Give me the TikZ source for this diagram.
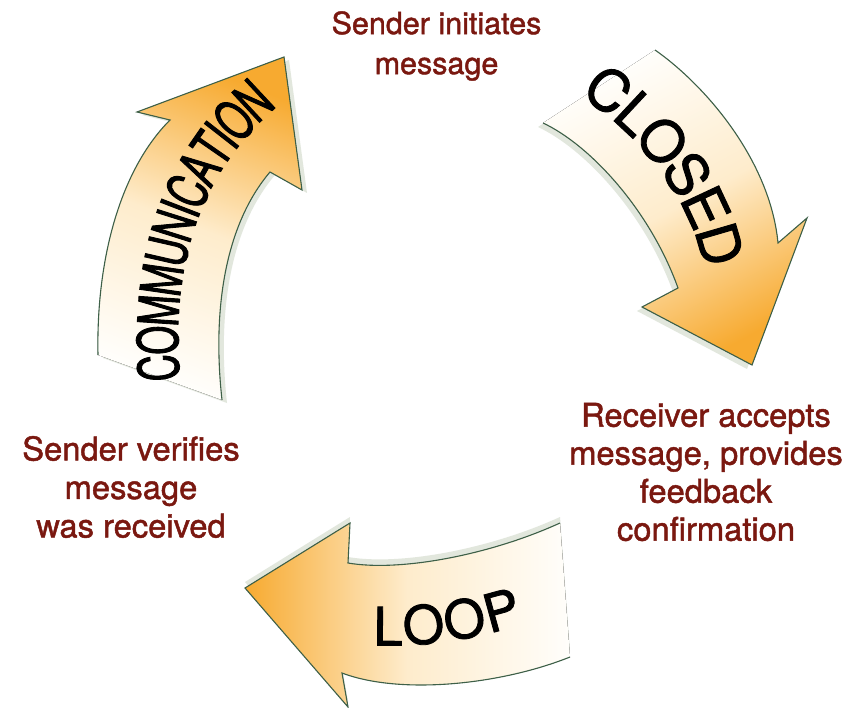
\documentclass[tikz,border=0pt]{standalone}
\usepackage{fontspec}
\setmainfont{TeX Gyre Heros}[FakeBold=1.4]
\newfontfamily\condfont[FakeStretch=0.66,FakeBold=1.6]{TeX Gyre Heros}
\newfontfamily\labfont[FakeBold=1.6]{TeX Gyre Heros}
\usetikzlibrary{decorations.text}
\definecolor{txtred}{RGB}{122,24,16}
\definecolor{edgegreen}{RGB}{62,96,72}
\definecolor{arrorange}{RGB}{247,170,48}
\definecolor{arrmid}{RGB}{254,236,204}
\definecolor{arrpale}{RGB}{255,254,251}
\definecolor{shadowgray}{RGB}{226,231,221}
\def\commout{(98,355) .. controls (96,260) and (120,170) .. (170,120) -- (137,112) -- (284,57) -- (302,190) -- (270,172) .. controls (225,225) and (212,310) .. (222,400)}
\def\closedout{(655,50) .. controls (705,85) and (770,160) .. (778,243) -- (807,218) -- (752,365) -- (642,307) -- (678,288) .. controls (650,210) and (590,145) .. (543,123)}
\def\loopout{(560,523) .. controls (490,555) and (400,572) .. (348,563) -- (350,523) -- (245,588) -- (348,707) -- (342,673) .. controls (400,695) and (500,685) .. (570,657)}
\begin{document}
\begin{tikzpicture}[x=1pt,y=-1pt,
  msg/.style={text=txtred, align=center, inner sep=0pt},
  edgeline/.style={draw=edgegreen, line width=1.1pt, line join=miter},
  bodyfill/.style={top color=arrorange, bottom color=arrpale, middle color=arrmid},
  shadowbody/.style={fill=shadowgray},
  arrlabel/.style={decorate, decoration={text along path, text align=center, text color=black}}
]
\useasboundingbox[fill=white] (0,0) rectangle (866,708);

% shadows
\fill[shadowbody, shift={(5,3)}] \commout -- cycle;
\fill[shadowbody, shift={(-5,4)}] \closedout -- cycle;
\fill[shadowbody, shift={(0,-6)}] \loopout -- cycle;

% bodies
\fill[bodyfill, shading angle=-21] \commout -- cycle;
\fill[bodyfill, shading angle=-151.5] \closedout -- cycle;
\fill[bodyfill, shading angle=90] \loopout -- cycle;

% outlines
\draw[edgeline] \commout;
\draw[edgeline] \closedout;
\draw[edgeline] \loopout;

% arrow labels
\path[arrlabel, decoration={raise=-20pt, text={|\condfont\fontsize{56}{56}\selectfont|COMMUNICATION}}]
  (160,387) .. controls (150,270) and (175,165) .. (268,88);
\path[arrlabel, decoration={raise=-20.5pt, text={|\labfont\fontsize{57}{57}\selectfont|CLOSED}}]
  (585,74) .. controls (642,110) and (710,178) .. (726,272);
\path[arrlabel, decoration={raise=-19pt, text={|\labfont\fontsize{53}{53}\selectfont|LOOP}}]
  (335,620) .. controls (390,635.5) and (485,622) .. (555,592);

% messages
\node[msg, font=\fontsize{30.5}{40}\selectfont] (initiate) at (436.5,46) {Sender initiates\\message};
\node[msg, font=\fontsize{32.7}{38.5}\selectfont] (verify) at (131,487) {Sender verifies\\message\\was received};
\node[msg, font=\fontsize{32.7}{38}\selectfont] (accept) at (706,472) {Receiver accepts\\message, provides\\feedback\\confirmation};
\end{tikzpicture}
\end{document}
